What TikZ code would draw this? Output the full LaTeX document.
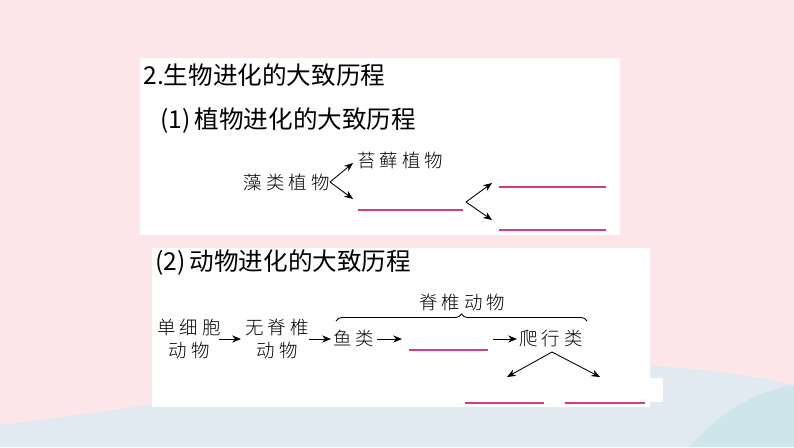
\documentclass[tikz,border=0pt]{standalone}
\usepackage{fontspec}
\newfontfamily\cjk{Noto Sans CJK SC}
\newfontfamily\cjkw[LetterSpace=22]{Noto Sans CJK SC Light}
\usetikzlibrary{arrows.meta,decorations.pathreplacing}
\definecolor{bgpink}{HTML}{FCE6E9}
\definecolor{bgblue}{HTML}{E2EAF1}
\definecolor{bgteal}{HTML}{CFE5EC}
\definecolor{blankred}{HTML}{D63C80}
\tikzset{
  head/.style={font=\cjk\fontsize{14}{14}\selectfont, anchor=west, inner sep=0pt},
  word/.style={font=\cjkw\fontsize{10.5}{13}\selectfont, inner sep=0pt, align=center},
  arr/.style={-{Stealth[length=5pt,width=4pt]}, line width=0.5pt},
  blank/.style={blankred, line width=0.6pt}
}
\begin{document}
\begin{tikzpicture}[x=0.02cm,y=-0.02cm]
        \useasboundingbox (0,0) rectangle (794,447);
        % background
        \fill[bgpink] (0,0) rectangle (794,447);
        \fill[bgblue] (0,447) -- (0,425) .. controls (250,395) and (550,330) .. (794,385) -- (794,447) -- cycle;
        \fill[bgteal] (690,447) .. controls (720,410) and (760,390) .. (794,385) -- (794,447) -- cycle;
        \fill[white] (140,58) rectangle (620,235);
        \fill[white] (152,248) rectangle (650,407);
        \fill[white] (650,378) rectangle (663,402);

        % plants
        \node[head] (t0) at (143,75) {2.生物进化的大致历程};
        \node[head] (t1) at (160,121) {(1)\,植物进化的大致历程};
        \node[word, anchor=east] (zao) at (330,182) {藻类植物};
        \node[word, anchor=west] (tai) at (357,160) {苔藓植物};
        \coordinate (b1l) at (358,210); \coordinate (b1r) at (463,210);
        \coordinate (v1) at (466,202);
        \coordinate (b2l) at (499,187); \coordinate (b2r) at (606,187);
        \coordinate (b3l) at (499,230); \coordinate (b3r) at (606,230);
        \draw[arr] (zao.east) -- (353,163);
        \draw[arr] (zao.east) -- (353,199);
        \draw[arr] (v1) -- (492,183);
        \draw[arr] (v1) -- (492,220);
        \draw[blank] (b1l) -- (b1r);
        \draw[blank] (b2l) -- (b2r);
        \draw[blank] (b3l) -- (b3r);

        % animals
        \node[head] (t2) at (155,263) {(2)\,动物进化的大致历程};
        \node[word] (dan) at (189,339) {单细胞\\动物};
        \node[word] (wu) at (277,339) {无脊椎\\动物};
        \node[word, anchor=west] (yu) at (333,338) {鱼类};
        \node[word, anchor=west] (pa) at (519,338) {爬行类};
        \node[word] (jz) at (462,302) {脊椎动物};
        \coordinate (b4l) at (409,350); \coordinate (b4r) at (488,350);
        \draw[decorate, decoration={brace, amplitude=4pt}, line width=0.5pt] (336,321) -- (587,321);
        \draw[arr] (219,339) -- (241,339);
        \draw[arr] (309,339) -- (331,339);
        \draw[arr] (377,339) -- (402,339);
        \draw[arr] (493,339) -- (517,339);
        \draw[blank] (b4l) -- (b4r);
        \coordinate (v2) at (552,352);
        \draw[arr] (v2) -- (507,377);
        \draw[arr] (v2) -- (600,377);
        \draw[blank] (465,403) -- (544,403);
        \draw[blank] (565,403) -- (645,403);
\end{tikzpicture}
\end{document}
